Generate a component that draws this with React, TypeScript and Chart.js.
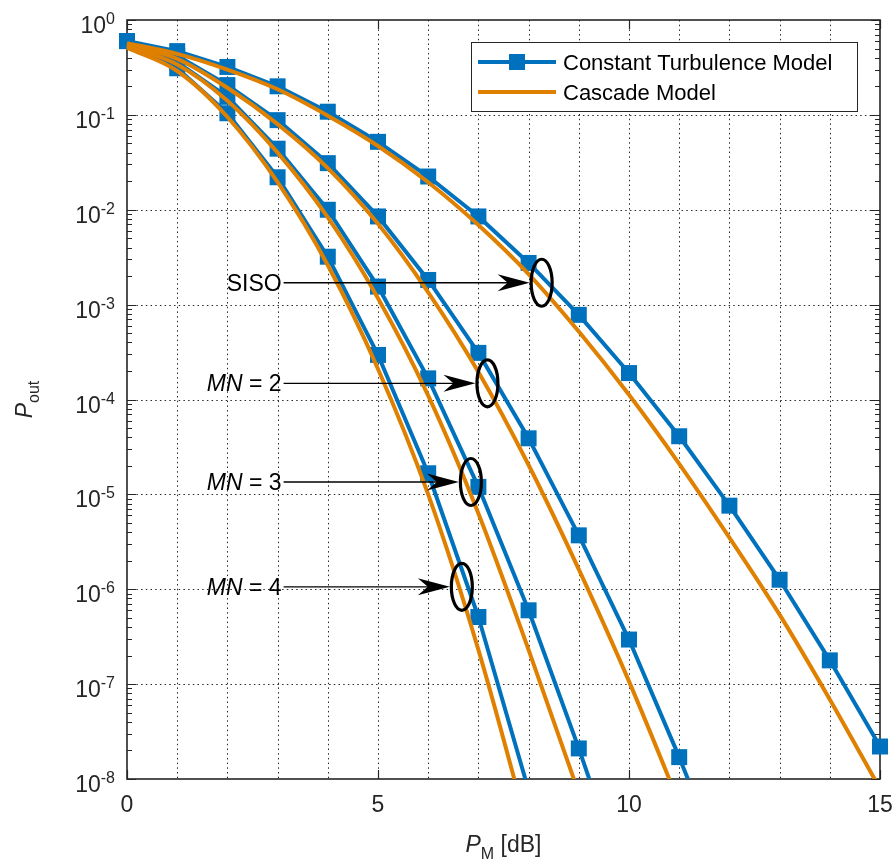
import React, { useEffect, useRef } from "react";
import { Chart, registerables } from "chart.js";

Chart.register(...registerables);

// Transmit power margin P_M in dB (sample points of every curve)
const pmDb = [0, 1, 2, 3, 4, 5, 6, 7, 8, 9, 10, 11, 12, 13, 14, 15];

// Outage probability, constant turbulence model (markers at each dB step)
const sisoConstant = [6.0e-1, 4.7e-1, 3.2e-1, 2.0e-1, 1.08e-1, 5.2e-2, 2.24e-2, 8.5e-3, 2.75e-3, 7.8e-4, 1.9e-4, 4.1e-5, 7.6e-6, 1.26e-6, 1.78e-7, 2.2e-8];
const mn2Constant = [6.0e-1, 4.2e-1, 2.06e-1, 8.8e-2, 3.1e-2, 8.5e-3, 1.82e-3, 3.1e-4, 3.9e-5, 3.7e-6, 2.95e-7, 1.7e-8, 8.0e-10];
const mn3Constant = [6.0e-1, 3.6e-1, 1.55e-1, 4.4e-2, 1.0e-2, 1.55e-3, 1.67e-4, 1.2e-5, 6.0e-7, 2.1e-8, 6.0e-10];
const mn4Constant = [6.0e-1, 3.1e-1, 1.04e-1, 2.2e-2, 3.2e-3, 2.95e-4, 1.67e-5, 5.1e-7, 7.6e-9];

// Outage probability, cascade model (smooth curves)
const sisoCascade = [5.7e-1, 4.4e-1, 3.0e-1, 1.86e-1, 9.8e-2, 4.7e-2, 1.95e-2, 6.9e-3, 2.1e-3, 5.2e-4, 1.12e-4, 2.1e-5, 3.5e-6, 5.4e-7, 6.9e-8, 7.9e-9];
const mn2Cascade = [5.5e-1, 3.9e-1, 1.93e-1, 8.0e-2, 2.75e-2, 7.1e-3, 1.35e-3, 1.95e-4, 2.04e-5, 1.62e-6, 1.07e-7, 5.5e-9, 2.5e-10];
const mn3Cascade = [5.3e-1, 3.4e-1, 1.41e-1, 4.0e-2, 8.3e-3, 1.17e-3, 1.1e-4, 6.3e-6, 2.3e-7, 7.1e-9, 1.8e-10];
const mn4Cascade = [5.1e-1, 2.9e-1, 9.5e-2, 1.95e-2, 2.6e-3, 2.1e-4, 1.0e-5, 2.3e-7, 2.8e-9];

// Axis ticks
const xTickValues = [0, 5, 10, 15];
const xTickLabels = ["0", "5", "10", "15"];
const xGridValues = [1, 2, 3, 4, 5, 6, 7, 8, 9, 10, 11, 12, 13, 14];
const yDecadeExponents = [0, -1, -2, -3, -4, -5, -6, -7, -8];
const yTickExponentLabels = ["0", "-1", "-2", "-3", "-4", "-5", "-6", "-7", "-8"];

// Legend entries
const legendLabels = ["Constant Turbulence Model", "Cascade Model"];

// Curve-group call-outs: label runs, ellipse centre (P_M, P_out), label end (P_M)
const calloutLabels = [
  [{ text: "SISO", italic: false }],
  [{ text: "MN", italic: true }, { text: " = 2", italic: false }],
  [{ text: "MN", italic: true }, { text: " = 3", italic: false }],
  [{ text: "MN", italic: true }, { text: " = 4", italic: false }],
];
const calloutCentersX = [8.26, 7.18, 6.85, 6.67];
const calloutCentersY = [1.7e-3, 1.48e-4, 1.35e-5, 1.06e-6];
const calloutLabelEndX = 3.08;

const BLUE = "#0072BD";
const ORANGE = "#E08000";
const AXIS = "#262626";
const FONT = '"Liberation Sans", Arial, Helvetica, sans-serif';

type Run = { text: string; italic?: boolean; size: number; dy?: number };

function font(size: number, italic?: boolean) {
  return `${italic ? "italic " : ""}${size}px ${FONT}`;
}

function runsWidth(ctx: CanvasRenderingContext2D, runs: Run[]) {
  let w = 0;
  for (const r of runs) {
    ctx.font = font(r.size, r.italic);
    w += ctx.measureText(r.text).width;
  }
  return w;
}

function drawRuns(
  ctx: CanvasRenderingContext2D,
  runs: Run[],
  x: number,
  y: number,
  align: "left" | "right" | "center"
) {
  const w = runsWidth(ctx, runs);
  let cx = align === "left" ? x : align === "right" ? x - w : x - w / 2;
  ctx.textAlign = "left";
  ctx.textBaseline = "alphabetic";
  for (const r of runs) {
    ctx.font = font(r.size, r.italic);
    ctx.fillText(r.text, cx, y + (r.dy || 0));
    cx += ctx.measureText(r.text).width;
  }
}

function toPoints(ys: number[]) {
  return ys.map((y, i) => ({ x: pmDb[i], y }));
}

const plotClip = { left: 20, top: 20, right: 20, bottom: 0 };

function constantSet(values: number[]) {
  return {
    label: legendLabels[0],
    data: toPoints(values),
    borderColor: BLUE,
    backgroundColor: BLUE,
    borderWidth: 4,
    borderJoinStyle: "round" as const,
    pointStyle: "rect" as const,
    pointRadius: 11.3,
    pointBackgroundColor: BLUE,
    pointBorderWidth: 0,
    tension: 0,
    clip: plotClip,
    order: 1,
  };
}

function cascadeSet(values: number[]) {
  return {
    label: legendLabels[1],
    data: toPoints(values),
    borderColor: ORANGE,
    backgroundColor: ORANGE,
    borderWidth: 4,
    pointRadius: 0,
    cubicInterpolationMode: "monotone" as const,
    clip: plotClip,
    order: 0,
  };
}

const axesPlugin = {
  id: "matlabAxes",
  beforeDatasetsDraw(chart: any) {
    const { ctx, chartArea: a, scales } = chart;
    const xs = scales.x;
    const ys = scales.y;
    ctx.save();

    // dotted grid
    ctx.strokeStyle = "rgba(30,30,30,0.95)";
    ctx.lineWidth = 1;
    ctx.setLineDash([1.5, 3.2]);
    ctx.beginPath();
    for (const v of xGridValues) {
      const px = Math.round(xs.getPixelForValue(v)) + 0.5;
      ctx.moveTo(px, a.top);
      ctx.lineTo(px, a.bottom);
    }
    for (const e of yDecadeExponents) {
      if (e === 0 || e === -8) continue;
      const py = Math.round(ys.getPixelForValue(Math.pow(10, e))) + 0.5;
      ctx.moveTo(a.left, py);
      ctx.lineTo(a.right, py);
    }
    ctx.stroke();
    ctx.setLineDash([]);

    // tick marks (inward, both sides)
    ctx.strokeStyle = AXIS;
    ctx.lineWidth = 1.2;
    ctx.beginPath();
    const major = 9;
    const minor = 5;
    for (const v of xTickValues) {
      const px = Math.round(xs.getPixelForValue(v)) + 0.5;
      ctx.moveTo(px, a.bottom);
      ctx.lineTo(px, a.bottom - major);
      ctx.moveTo(px, a.top);
      ctx.lineTo(px, a.top + major);
    }
    for (const e of yDecadeExponents) {
      const py = Math.round(ys.getPixelForValue(Math.pow(10, e))) + 0.5;
      ctx.moveTo(a.left, py);
      ctx.lineTo(a.left + major, py);
      ctx.moveTo(a.right, py);
      ctx.lineTo(a.right - major, py);
      if (e === 0) continue;
      for (let m = 2; m <= 9; m++) {
        const pm = Math.round(ys.getPixelForValue(m * Math.pow(10, e))) + 0.5;
        ctx.moveTo(a.left, pm);
        ctx.lineTo(a.left + minor, pm);
        ctx.moveTo(a.right, pm);
        ctx.lineTo(a.right - minor, pm);
      }
    }
    ctx.stroke();

    // axes box
    ctx.lineWidth = 1.6;
    ctx.strokeRect(a.left, a.top, a.right - a.left, a.bottom - a.top);
    ctx.restore();
  },
  afterDatasetsDraw(chart: any) {
    const { ctx, chartArea: a, scales } = chart;
    const xs = scales.x;
    const ys = scales.y;
    ctx.save();

    // tick labels
    ctx.fillStyle = AXIS;
    xTickValues.forEach((v, i) => {
      drawRuns(ctx, [{ text: xTickLabels[i], size: 23 }], xs.getPixelForValue(v), a.bottom + 33, "center");
    });
    yDecadeExponents.forEach((e, i) => {
      const py = ys.getPixelForValue(Math.pow(10, e));
      drawRuns(
        ctx,
        [
          { text: "10", size: 23 },
          { text: yTickExponentLabels[i], size: 16, dy: -9 },
        ],
        a.left - 12,
        py + 13,
        "right"
      );
    });

    // axis titles
    drawRuns(
      ctx,
      [
        { text: "P", italic: true, size: 23 },
        { text: "M", size: 16, dy: 7 },
        { text: " [dB]", size: 23 },
      ],
      (a.left + a.right) / 2,
      a.bottom + 73,
      "center"
    );
    ctx.save();
    ctx.translate(32, (a.top + a.bottom) / 2);
    ctx.rotate(-Math.PI / 2);
    drawRuns(
      ctx,
      [
        { text: "P", italic: true, size: 23 },
        { text: "out", size: 16, dy: 7 },
      ],
      0,
      0,
      "center"
    );
    ctx.restore();

    // call-outs: label, arrow, ellipse
    const rx = 10.5;
    const ry = 23.5;
    calloutLabels.forEach((parts, i) => {
      const cx = xs.getPixelForValue(calloutCentersX[i]);
      const cy = ys.getPixelForValue(calloutCentersY[i]);
      const endX = xs.getPixelForValue(calloutLabelEndX);
      ctx.fillStyle = "#000";
      drawRuns(
        ctx,
        parts.map((p) => ({ text: p.text, italic: p.italic, size: 23 })),
        endX,
        cy + 8,
        "right"
      );
      const tipX = cx - rx - 1.5;
      ctx.strokeStyle = "#000";
      ctx.lineWidth = 1.3;
      ctx.beginPath();
      ctx.moveTo(endX + 2, cy);
      ctx.lineTo(tipX - 20, cy);
      ctx.stroke();
      ctx.beginPath();
      ctx.moveTo(tipX, cy);
      ctx.lineTo(tipX - 32, cy - 8.5);
      ctx.lineTo(tipX - 22, cy);
      ctx.lineTo(tipX - 32, cy + 8.5);
      ctx.closePath();
      ctx.fill();
      ctx.lineWidth = 3.2;
      ctx.beginPath();
      ctx.ellipse(cx, cy, rx, ry, 0, 0, Math.PI * 2);
      ctx.stroke();
    });

    // legend
    const lx = 471.5;
    const ly = 42.5;
    const lw = 386;
    const lh = 69;
    ctx.fillStyle = "#fff";
    ctx.fillRect(lx, ly, lw, lh);
    ctx.strokeStyle = AXIS;
    ctx.lineWidth = 1;
    ctx.strokeRect(lx, ly, lw, lh);
    const rows = [62, 92];
    const colors = [BLUE, ORANGE];
    rows.forEach((ry2, i) => {
      ctx.strokeStyle = colors[i];
      ctx.lineWidth = 4;
      ctx.beginPath();
      ctx.moveTo(478, ry2);
      ctx.lineTo(556, ry2);
      ctx.stroke();
      if (i === 0) {
        ctx.fillStyle = BLUE;
        ctx.fillRect(517 - 8, ry2 - 8, 16, 16);
      }
      ctx.fillStyle = "#000";
      drawRuns(ctx, [{ text: legendLabels[i], size: 22 }], 563, ry2 + 8, "left");
    });

    ctx.restore();
  },
};

export default function App() {
  const ref = useRef<HTMLCanvasElement>(null);

  useEffect(() => {
    if (!ref.current) return;
    const chart = new Chart(ref.current, {
      type: "line",
      data: {
        datasets: [
          cascadeSet(sisoCascade),
          cascadeSet(mn2Cascade),
          cascadeSet(mn3Cascade),
          cascadeSet(mn4Cascade),
          constantSet(sisoConstant),
          constantSet(mn2Constant),
          constantSet(mn3Constant),
          constantSet(mn4Constant),
        ] as any,
      },
      options: {
        responsive: false,
        devicePixelRatio: 1,
        animation: false,
        events: [],
        layout: { padding: { left: 127, right: 16, top: 20, bottom: 86 } },
        plugins: { legend: { display: false }, tooltip: { enabled: false } },
        scales: {
          x: { type: "linear", min: 0, max: 15, display: false },
          y: { type: "logarithmic", min: 1e-8, max: 1, display: false },
        },
      },
      plugins: [axesPlugin],
    });
    return () => chart.destroy();
  }, []);

  return (
    <div style={{ position: "fixed", left: 0, top: 0, width: 896, height: 865, background: "#fff" }}>
      <canvas ref={ref} width={896} height={865} style={{ display: "block", width: 896, height: 865 }} />
    </div>
  );
}
